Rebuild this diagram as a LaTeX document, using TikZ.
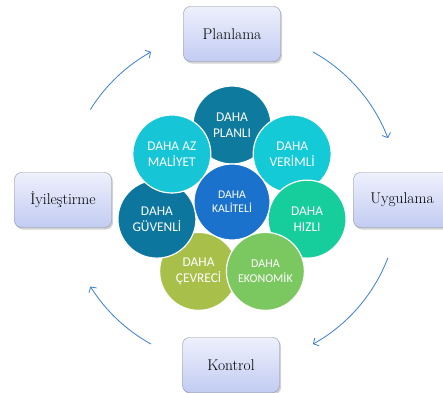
\documentclass[tikz,border=0pt]{standalone}
\usepackage{fontspec}
\newfontfamily\petalfont{Carlito}
\usetikzlibrary{arrows.meta,shadows}

\definecolor{boxtop}{RGB}{238,240,252}
\definecolor{boxbottom}{RGB}{194,204,242}
\definecolor{boxedge}{RGB}{138,142,158}
\definecolor{arrowblue}{RGB}{58,125,214}
\definecolor{cplanli}{RGB}{14,122,158}
\definecolor{cverimli}{RGB}{20,202,214}
\definecolor{chizli}{RGB}{22,206,156}
\definecolor{cekonomik}{RGB}{124,200,96}
\definecolor{ccevreci}{RGB}{168,192,74}
\definecolor{cguvenli}{RGB}{12,118,158}
\definecolor{cmaliyet}{RGB}{22,198,214}
\definecolor{ckalite}{RGB}{26,114,204}

\tikzset{
  stagebox/.style={draw=boxedge, rounded corners=7pt, minimum width=97pt, minimum height=55pt,
    top color=boxtop, bottom color=boxbottom,
    drop shadow={opacity=0.35, shadow xshift=1.5pt, shadow yshift=-2pt},
    font=\fontsize{15.5}{18}\selectfont},
  gain/.style={circle, draw=white, line width=1.2pt, minimum size=78pt, inner sep=0pt,
    text=white, align=center, font=\petalfont\fontsize{13.4}{15.5}\selectfont},
  cycarrow/.style={draw=arrowblue, line width=0.8pt, -{Straight Barb[length=4pt,width=9pt]}}
}

\begin{document}
\begin{tikzpicture}[x=1pt,y=1pt]
\def\ring{167}
\def\petal{77}
\useasboundingbox (0,0) rectangle (443,392);

\coordinate (hub) at (232,194);
\coordinate (mid) at (232,190);

% stage boxes
\node[stagebox] (plan) at (232,358) {Planlama};
\node[stagebox] (uyg) at (402,192) {Uygulama};
\node[stagebox] (kontrol) at (231,27) {Kontrol};
\node[stagebox] (iyi) at (63,192) {İyileştirme};

% cycle arrows
\coordinate (a1) at ([shift={(148:\ring)}]hub);
\coordinate (a2) at ([shift={(61:\ring)}]hub);
\coordinate (a3) at ([shift={(-21:\ring)}]hub);
\coordinate (a4) at ([shift={(-119:\ring)}]hub);
\draw[cycarrow] (a1) arc[start angle=148, end angle=119, radius=\ring];
\draw[cycarrow] (a2) arc[start angle=61, end angle=21, radius=\ring];
\draw[cycarrow] (a3) arc[start angle=-21, end angle=-61, radius=\ring];
\draw[cycarrow] (a4) arc[start angle=-119, end angle=-148, radius=\ring];

% petals
\node[gain, fill=cplanli] (planli) at ([shift={(90:\petal)}]mid) {DAHA\\PLANLI};
\node[gain, fill=cverimli] (verimli) at ([shift={(38.57:\petal)}]mid) {DAHA\\VERİMLİ};
\node[gain, fill=chizli] (hizli) at ([shift={(-12.86:\petal)}]mid) {DAHA\\HIZLI};
\node[gain, fill=ccevreci] (cevreci) at ([shift={(-115.71:\petal)}]mid) {DAHA\\ÇEVRECİ};
\node[gain, fill=cguvenli] (guvenli) at ([shift={(-167.14:\petal)}]mid) {DAHA\\GÜVENLİ};
\node[gain, fill=cekonomik, font=\petalfont\fontsize{12}{14.5}\selectfont] (ekonomik) at ([shift={(-64.29:\petal)}]mid) {DAHA\\EKONOMİK};
\node[gain, fill=cmaliyet] (maliyet) at ([shift={(141.43:\petal)}]mid) {DAHA AZ\\MALİYET};
\node[gain, fill=ckalite, minimum size=76pt, font=\petalfont\fontsize{11.7}{14}\selectfont] (kalite) at (mid) {DAHA\\KALİTELİ};

\end{tikzpicture}
\end{document}
